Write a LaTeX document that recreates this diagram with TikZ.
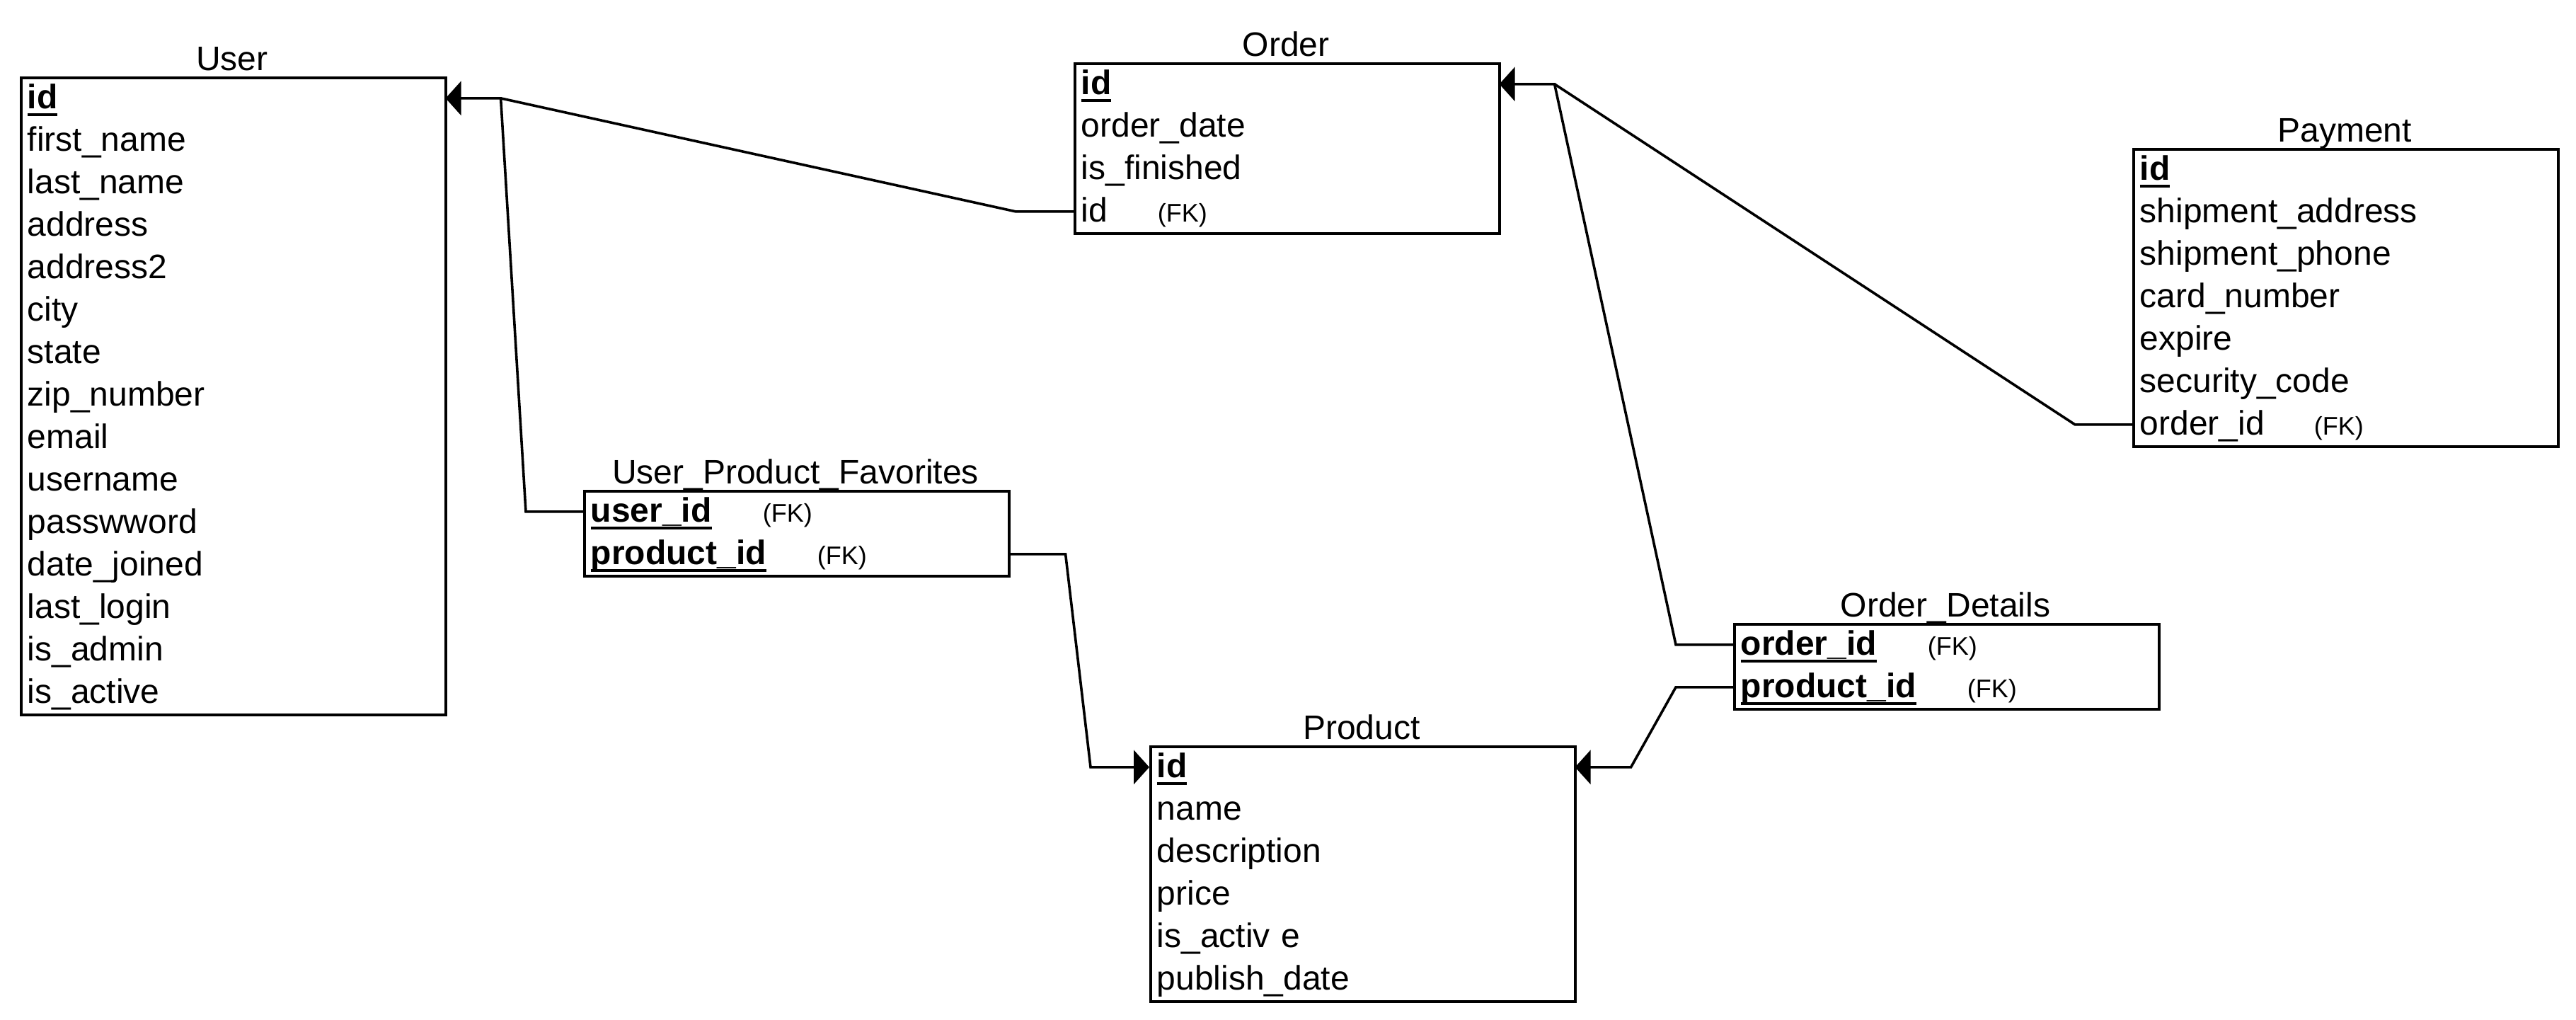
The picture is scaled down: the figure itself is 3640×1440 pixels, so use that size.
\documentclass[tikz,border=0pt]{standalone}
\usepackage{fontspec}
\setmainfont{Liberation Sans}
\usetikzlibrary{arrows.meta,calc}

% primary key: bold with an underline
\newcommand\pkey[1]{\setbox0\hbox{\bfseries #1}\rlap{\rule[-2.5pt]{\wd0}{1pt}}\box0}
% foreign key column: name in a fixed-width slot, then a small (FK)
\newcommand\fkcol[2]{\makebox[#1][l]{#2}{\fontsize{9pt}{11pt}\selectfont(FK)}}

\tikzset{
  x=0.25pt, y=-0.25pt,
  tablebox/.style={draw, line width=1pt, minimum width=150pt, inner sep=0pt, anchor=north west},
  fieldrow/.style={inner sep=0pt, inner xsep=2.5pt, minimum width=150pt, minimum height=15pt,
    text width=145pt, align=left, text height=10pt, text depth=2.5pt, anchor=north west,
    font=\fontsize{12pt}{15pt}\selectfont},
  tabletitle/.style={inner sep=0pt, anchor=base, font=\fontsize{12pt}{15pt}\selectfont},
  link/.style={line width=0.9pt},
  tip/.style={-{Triangle[length=5.5pt,width=12pt]}},
}

% #1 name, #2 left, #3 top, #4 number of rows, #5 title, #6 fields
\newcommand\erdtable[6]{%
  \foreach \f [count=\i from 0] in {#6}
    {\node[fieldrow] (#1-\i) at (#2,{#3+60*\i}) {\f};}
  \node[tablebox, minimum height=#4*15pt] (#1) at (#2,#3) {};
  \node[tabletitle] (#1-title) at ({#2+300},{#3-9}) {#5};
}

\begin{document}
\begin{tikzpicture}
\fill[white] (0,0) rectangle (3640,1440);
\useasboundingbox (0,0) rectangle (3640,1440);

\erdtable{user}{28}{108}{15}{User}{\pkey{id},first\_name,last\_name,address,address2,city,state,zip\_number,email,username,passwword,date\_joined,last\_login,is\_admin,is\_active}
\erdtable{ord}{1517}{88}{4}{Order}{\pkey{id},order\_date,is\_finished,\fkcol{27pt}{id}}
\erdtable{pay}{3013}{209}{7}{Payment}{\pkey{id},shipment\_address,shipment\_phone,card\_number,expire,security\_code,\fkcol{61.5pt}{order\_id}}
\erdtable{upf}{824}{692}{2}{User\_Product\_Favorites}{\fkcol{60.75pt}{\pkey{user\_id}},\fkcol{80pt}{\pkey{product\_id}}}
\erdtable{od}{2449}{880}{2}{Order\_Details}{\fkcol{66pt}{\pkey{order\_id}},\fkcol{80pt}{\pkey{product\_id}}}
\erdtable{prod}{1624}{1053}{6}{Product}{\pkey{id},name,description,price,is\_activ e,publish\_date}

% junction points where several references meet
\coordinate (userhub) at ($(user-0.east)+(78,0)$);
\coordinate (ordhub) at ($(ord-0.east)+(78,0)$);

% references to User
\draw[link, tip] (ord-3.west) -- ++(-82,0) -- (userhub) -- (user-0.east);
\draw[link] (upf-0.west) -- ++(-81,0) -- (userhub);

% references to Order
\draw[link, tip] (od-0.west) -- ++(-81,0) -- (ordhub) -- (ord-0.east);
\draw[link] (pay-6.west) -- ++(-81,0) -- (ordhub);

% references to Product
\draw[link, tip] (upf-1.east) -- ++(80,0) -- ($(prod-0.west)+(-83,0)$) -- (prod-0.west);
\draw[link, tip] (od-1.west) -- ++(-81,0) -- ($(prod-0.east)+(79,0)$) -- (prod-0.east);
\end{tikzpicture}
\end{document}
